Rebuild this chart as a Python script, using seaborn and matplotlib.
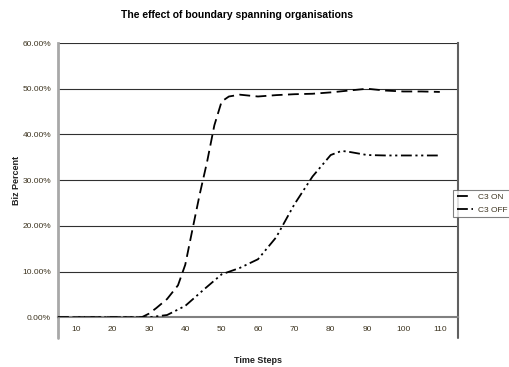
import seaborn as sns
import matplotlib.pyplot as plt
import pandas as pd
from matplotlib.ticker import PercentFormatter
from matplotlib.lines import Line2D

# Values (percent of businesses)
steps_on = [5, 10, 15, 20, 25, 28, 30, 32, 35, 38, 40, 42, 44, 46, 48, 50, 52, 55,
            60, 65, 70, 75, 80, 85, 90, 95, 100, 105, 110]
c3_on = [0, 0, 0, 0, 0, 0, 0.8, 2.0, 4.0, 7.0, 11.5, 19.3, 27.0, 34.0, 42.0, 47.2, 48.3, 48.7,
         48.3, 48.6, 48.8, 48.9, 49.2, 49.6, 50.0, 49.6, 49.4, 49.4, 49.3]
steps_off = [5, 10, 15, 20, 25, 30, 35, 40, 45, 50, 55, 60, 65, 70, 75, 80, 83, 85,
             90, 95, 100, 105, 110]
c3_off = [0, 0, 0, 0, 0, 0, 0.5, 2.5, 6.0, 9.4, 10.8, 12.7, 17.5, 24.7, 30.8, 35.5, 36.4, 36.2,
          35.5, 35.4, 35.4, 35.4, 35.4]
x_labels = [10, 20, 30, 40, 50, 60, 70, 80, 90, 100, 110]

df = pd.concat([
    pd.DataFrame({'Time Steps': steps_on, 'Biz Percent': c3_on, 'Series': 'C3 ON'}),
    pd.DataFrame({'Time Steps': steps_off, 'Biz Percent': c3_off, 'Series': 'C3 OFF'}),
])

sns.set_style('white')
plt.rcParams['font.family'] = ['Liberation Sans', 'DejaVu Sans']
txt = '#3d3420'
dash_on = (6, 3)
dash_off = (6, 2, 1.2, 2, 1.2, 2)

fig = plt.figure(figsize=(5.1, 3.67), dpi=100)
ax = fig.add_axes([0.1137, 0.1354, 0.7843, 0.7474])

sns.lineplot(data=df, x='Time Steps', y='Biz Percent', hue='Series', style='Series',
             palette=['black', 'black'], dashes=[dash_on, dash_off],
             linewidth=1.3, ax=ax, legend=False, zorder=4)

ax.set_xlim(5, 115)
ax.set_ylim(0, 60)
ax.set_xticks(x_labels)
ax.set_xticks([l + 5 for l in x_labels[:-1]], minor=True)
ax.set_yticks(range(0, 61, 10))
ax.yaxis.set_major_formatter(PercentFormatter(decimals=2))
ax.grid(axis='y', color='#303030', linewidth=0.8)
ax.set_axisbelow(True)
ax.tick_params(axis='x', which='major', length=0, labelsize=6, colors=txt, pad=6)
ax.tick_params(axis='x', which='minor', direction='inout', length=6, width=0.8, color='#808080')
ax.tick_params(axis='y', length=4, width=0.8, color='#808080', labelsize=6, colors=txt, pad=1)

ax.spines['top'].set_visible(False)
ax.spines['left'].set_color('#a8a8a8')
ax.spines['left'].set_linewidth(2)
ax.spines['bottom'].set_color('#808080')
ax.spines['bottom'].set_linewidth(1.5)
ax.spines['right'].set_color('#606060')
ax.spines['right'].set_linewidth(1.5)
# Excel-style long edge ticks below the category axis
ax.axvline(5, ymin=-0.075, ymax=0, color='#a8a8a8', linewidth=2, clip_on=False)
ax.axvline(115, ymin=-0.075, ymax=0, color='#606060', linewidth=1.5, clip_on=False)

ax.set_xlabel('Time Steps', fontsize=6.5, fontweight='bold', color='#202020', labelpad=17)
ax.set_ylabel('Biz Percent', fontsize=6.5, fontweight='bold', color='#202020', labelpad=1)
fig.text(0.465, 0.958, 'The effect of boundary spanning organisations', ha='center',
         va='center', fontsize=7.5, fontweight='bold', color='black')

handles = [Line2D([], [], color='black', linewidth=1.3, dashes=dash_on),
           Line2D([], [], color='black', linewidth=1.3, dashes=dash_off)]
leg = fig.legend(handles, ['C3 ON', 'C3 OFF'], loc='center left',
                 bbox_to_anchor=(0.889, 0.445), fontsize=6, frameon=True,
                 fancybox=False, handlelength=2.0, handletextpad=0.5,
                 borderpad=0.4, labelspacing=0.6, borderaxespad=0)
leg.get_frame().set_edgecolor('#606060')
leg.get_frame().set_linewidth(0.8)
for t in leg.get_texts():
    t.set_color(txt)

fig.savefig('out.png', dpi=100)
